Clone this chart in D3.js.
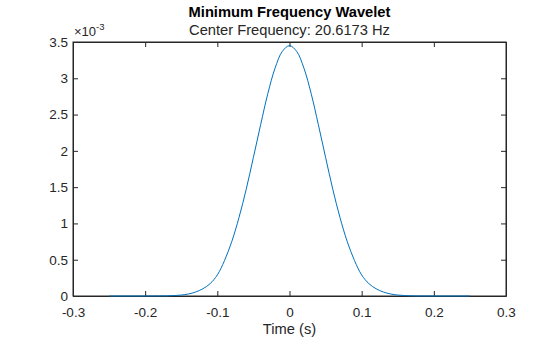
<!DOCTYPE html>
<html>
<head>
<meta charset="utf-8">
<script src="https://cdn.jsdelivr.net/npm/d3@7"></script>
<style>
  body { margin: 0; background: #fff; }
  text { font-family: "Liberation Sans", Arial, sans-serif; }
</style>
</head>
<body>
<div id="chart"></div>
<script>
// time (s) and wavelet values (x 1e-3)
const times = [-0.25, -0.24, -0.23, -0.22, -0.21, -0.20, -0.19, -0.18, -0.17, -0.16,
  -0.15, -0.14, -0.13, -0.12, -0.11, -0.10, -0.09, -0.08, -0.07, -0.06,
  -0.05, -0.04, -0.03, -0.02, -0.01, 0, 0.01, 0.02, 0.03, 0.04,
  0.05, 0.06, 0.07, 0.08, 0.09, 0.10, 0.11, 0.12, 0.13, 0.14,
  0.15, 0.16, 0.17, 0.18, 0.19, 0.20, 0.21, 0.22, 0.23, 0.24, 0.25];
const values = [0, 0, 0, 0, 0, 0, 0.0005, 0.001, 0.002, 0.006,
  0.013, 0.028, 0.055, 0.10, 0.17, 0.29, 0.49, 0.75, 1.08, 1.47,
  1.91, 2.36, 2.79, 3.14, 3.37, 3.45, 3.37, 3.14, 2.79, 2.36,
  1.91, 1.47, 1.08, 0.75, 0.49, 0.29, 0.17, 0.10, 0.055, 0.028,
  0.013, 0.006, 0.002, 0.001, 0.0005, 0, 0, 0, 0, 0, 0];
const xTicks = [-0.3, -0.2, -0.1, 0, 0.1, 0.2, 0.3];
const yTicks = [0, 0.5, 1, 1.5, 2, 2.5, 3, 3.5];

const w = 560, h = 337;
const padL = 73, padR = 506, padT = 42, padB = 296;
const ink = '#262626';

const data = times.map((t, i) => ({ t: t, v: values[i] }));

const xScale = d3.scaleLinear().domain([-0.3, 0.3]).range([padL, padR]);
const yScale = d3.scaleLinear().domain([0, 3.5]).range([padB, padT]);

const svg = d3.select('#chart').append('svg')
  .attr('width', w)
  .attr('height', h);

const xAxis = d3.axisBottom(xScale)
  .tickValues(xTicks)
  .tickSizeInner(-5).tickSizeOuter(0).tickPadding(11)
  .tickFormat(d => d === 0 ? '0' : d.toFixed(1));

const yAxis = d3.axisLeft(yScale)
  .tickValues(yTicks)
  .tickSizeInner(-5).tickSizeOuter(0).tickPadding(5)
  .tickFormat(d => String(d));

svg.append('g')
  .attr('transform', `translate(0,${padB})`)
  .call(xAxis);
svg.append('g')
  .attr('transform', `translate(${padL},0)`)
  .call(yAxis);

// mirrored ticks on top and right
svg.append('g')
  .attr('transform', `translate(0,${padT})`)
  .call(d3.axisTop(xScale).tickValues(xTicks).tickSizeInner(-5).tickSizeOuter(0).tickFormat(''));
svg.append('g')
  .attr('transform', `translate(${padR},0)`)
  .call(d3.axisRight(yScale).tickValues(yTicks).tickSizeInner(-5).tickSizeOuter(0).tickFormat(''));

svg.selectAll('.domain').attr('stroke', ink);
svg.selectAll('.tick line').attr('stroke', ink);
svg.selectAll('.tick text')
  .attr('fill', ink)
  .style('font-size', '13.5px')
  .style('font-family', '"Liberation Sans", Arial, sans-serif');

svg.append('rect')
  .attr('x', padL).attr('y', padT)
  .attr('width', padR - padL).attr('height', padB - padT)
  .attr('fill', 'none')
  .attr('stroke', ink)
  .attr('stroke-width', 1);

// curve
const line = d3.line()
  .x(d => xScale(d.t))
  .y(d => yScale(d.v))
  .curve(d3.curveCatmullRom);

svg.append('path')
  .datum(data)
  .attr('d', line)
  .attr('fill', 'none')
  .attr('stroke', '#0072BD')
  .attr('stroke-width', 1);

// exponent label
const expo = svg.append('text')
  .attr('x', padL + 1)
  .attr('y', 36)
  .attr('fill', ink)
  .style('font-size', '13px');
expo.append('tspan').text('\u00d710');
expo.append('tspan').attr('dy', -6).style('font-size', '9.5px').text('-3');

// titles
svg.append('text')
  .attr('x', (padL + padR) / 2)
  .attr('y', 16.5)
  .attr('text-anchor', 'middle')
  .style('font-size', '14.7px')
  .style('font-weight', 'bold')
  .attr('fill', '#000')
  .text('Minimum Frequency Wavelet');

svg.append('text')
  .attr('x', (padL + padR) / 2)
  .attr('y', 35)
  .attr('text-anchor', 'middle')
  .style('font-size', '14.7px')
  .attr('fill', ink)
  .text('Center Frequency: 20.6173 Hz');

svg.append('text')
  .attr('x', (padL + padR) / 2)
  .attr('y', 334)
  .attr('text-anchor', 'middle')
  .style('font-size', '14.7px')
  .attr('fill', ink)
  .text('Time (s)');
</script>
</body>
</html>
